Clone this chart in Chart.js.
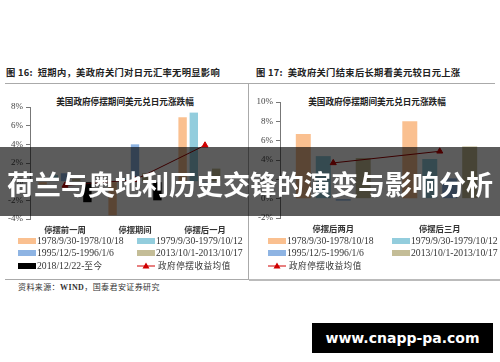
<!DOCTYPE html>
<html><head><meta charset="utf-8">
<script src="https://cdn.jsdelivr.net/npm/chart.js@4"></script>
<style>
body{margin:0;width:500px;height:362px;background:#fff;position:relative;overflow:hidden;font-family:"Liberation Serif","Noto Sans CJK SC",serif;color:#333;}
.abs{position:absolute;}
.ptitle{font-family:"Noto Sans CJK SC";font-size:9.3px;font-weight:bold;color:#222;white-space:nowrap;letter-spacing:0.3px;}
.ctitle{font-family:"Noto Sans CJK SC";font-size:8.6px;font-weight:bold;color:#222;white-space:nowrap;text-align:center;}
.leg{position:absolute;font-size:9.7px;white-space:nowrap;line-height:12px;color:#333;}
.leg .box{display:inline-block;width:18px;height:6px;vertical-align:middle;margin-right:1px;position:relative;top:-1px;}
.leg .cn{font-family:"Noto Sans CJK SC";font-size:8.6px;letter-spacing:0.5px;}
canvas{position:absolute;}
</style></head>
<body>
<div class="abs ptitle" style="left:6px;top:65px;">图 16:&nbsp; 短期内，美政府关门对日元汇率无明显影响</div>
<div class="abs ptitle" style="left:256px;top:65px;">图 17:&nbsp; 美政府关门结束后长期看美元较日元上涨</div>
<div class="abs" style="left:5px;top:83px;width:490px;height:1px;background:#aaa;"></div>
<div class="abs" style="left:248px;top:83px;width:1px;height:197px;background:#aaa;"></div>
<div class="abs" style="left:5px;top:279px;width:244px;height:1px;background:#aaa;"></div>
<div class="abs" style="left:249px;top:279px;width:251px;height:2px;background:#bbb;"></div>
<div class="abs ctitle" style="left:25px;top:95px;width:200px;">美国政府停摆期间美元兑日元涨跌幅</div>
<div class="abs ctitle" style="left:277px;top:95px;width:200px;">美国政府停摆期间美元兑日元涨跌幅</div>
<canvas id="c1" width="248" height="145" style="left:0;top:95px;"></canvas>
<canvas id="c2" width="248" height="150" style="left:250px;top:90px;"></canvas>
<div class="abs" style="left:18px;top:281px;font-family:'Noto Sans CJK SC';font-size:8px;color:#333;letter-spacing:0.4px;">资料来源：<span style="font-family:'Liberation Serif';font-weight:bold">WIND</span>，国泰君安证券研究</div>
<div class="abs" style="left:0;top:147px;width:500px;height:69px;background:rgba(0,0,0,0.64);"></div>
<div class="abs" style="left:7px;top:169px;font-family:'Noto Sans CJK SC';font-weight:bold;font-size:27px;line-height:30px;color:#fff;white-space:nowrap;">荷兰与奥地利历史交锋的演变与影响分析</div>
<div class="abs" style="left:312px;top:323px;width:181px;height:30px;background:#000;color:#fff;font-family:'DejaVu Sans';font-weight:bold;font-size:14px;line-height:30px;text-align:center;">www.cnapp-pa.com</div>
<script>
// ---- data ----
const leftCategories = ['停摆前一周','停摆期间','停摆后一月'];
const rightCategories = ['停摆后两月','停摆后三月'];
const seriesNames = ['1978/9/30-1978/10/18','1979/9/30-1979/10/12','1995/12/5-1996/1/6','2013/10/1-2013/10/17','2018/12/22-至今'];
const avgName = '政府停摆收益均值';
const left1978 = [-0.3, -3.6, 6.9];
const left1979 = [0.7, 0.4, 7.4];
const left1995 = [0.9, 4.0, -0.1];
const left2013 = [0.3, 0.9, 1.4];
const left2018 = [-2.2, -2.0, null];
const leftAvg  = [-0.4, 0.2, 3.9];
const right1978 = [6.7, 8.0];
const right1979 = [4.4, 4.1];
const right1995 = [-0.2, 2.1];
const right2013 = [4.2, 5.4];
const rightAvg  = [3.7, 4.9];
const leftTicks = {min:-4, max:8, step:2};
const rightTicks = {min:-2, max:10, step:2};
// ---- styles ----
const colors = ['#FAC090','#93CDDD','#8EB4E3','#C4BD97','#000000'];
const lineColor = '#A00000', markerColor = '#D00000';

function barDs(label, data, color){
  return {type:'bar',label,data,backgroundColor:color,borderWidth:0,order:2};
}
function lineDs(data){
  return {type:'line',label:avgName,data,borderColor:lineColor,borderWidth:1,pointStyle:'triangle',
    pointRadius:3.5,pointBackgroundColor:markerColor,pointBorderColor:markerColor,fill:false,tension:0,order:1};
}
function makeChart(id, cats, datasets, t, padTop, padRight, xH, catPct, barPct){
  new Chart(document.getElementById(id),{
    type:'bar',data:{labels:cats,datasets},
    options:{responsive:false,animation:false,devicePixelRatio:1,
      datasets:{bar:{categoryPercentage:catPct,barPercentage:barPct}},
      layout:{padding:{top:padTop,right:padRight,left:0,bottom:0}},
      plugins:{legend:{display:false},title:{display:false},tooltip:{enabled:false}},
      scales:{
        x:{grid:{display:false,drawTicks:false},border:{display:false},
           ticks:{font:{family:'Noto Sans CJK SC',size:8.3,weight:'bold'},color:'#333',padding:6,maxRotation:0,autoSkip:false},
           afterFit:s=>{s.height=xH;}},
        y:{min:t.min,max:t.max,
           ticks:{stepSize:t.step,callback:v=>v+'%',font:{family:'Liberation Serif',size:9},color:'#444',padding:3},
           grid:{drawOnChartArea:false,drawTicks:true,tickLength:4,color:'#777'},
           border:{display:true,color:'#777'},
           afterFit:s=>{s.width=30;}}
      }}
  });
}
makeChart('c1', leftCategories, [
  barDs(seriesNames[0], left1978, colors[0]),
  barDs(seriesNames[1], left1979, colors[1]),
  barDs(seriesNames[2], left1995, colors[2]),
  barDs(seriesNames[3], left2013, colors[3]),
  barDs(seriesNames[4], left2018, colors[4]),
  lineDs(leftAvg)
], leftTicks, 12, 8, 21, 0.8, 0.75);
makeChart('c2', rightCategories, [
  barDs(seriesNames[0], right1978, colors[0]),
  barDs(seriesNames[1], right1979, colors[1]),
  barDs(seriesNames[2], right1995, colors[2]),
  barDs(seriesNames[3], right2013, colors[3]),
  lineDs(rightAvg)
], rightTicks, 12, 0, 22, 0.75, 0.75);

// ---- legends ----
function legendItem(x, y, idx, isLine){
  const d = document.createElement('div'); d.className='leg';
  d.style.left = x+'px'; d.style.top = (y-6)+'px';
  if(isLine){
    d.innerHTML = '<svg width="19" height="8" style="vertical-align:middle;position:relative;top:-1px;margin-right:2px"><line x1="0" y1="4" x2="18" y2="4" stroke="'+markerColor+'" stroke-width="1"/><polygon points="9,0.5 12.5,6.5 5.5,6.5" fill="'+markerColor+'"/></svg><span class="cn">'+avgName+'</span>';
  } else {
    let name = seriesNames[idx].replace('至今','<span class="cn">至今</span>');
    d.innerHTML = '<span class="box" style="background:'+colors[idx]+'"></span>'+name;
  }
  document.body.appendChild(d);
}
const rows = [241, 253, 265];
legendItem(18, rows[0], 0); legendItem(137, rows[0], 1);
legendItem(18, rows[1], 2); legendItem(137, rows[1], 3);
legendItem(18, rows[2], 4); legendItem(137, rows[2], 0, true);
legendItem(268, rows[0], 0); legendItem(392, rows[0], 1);
legendItem(268, rows[1], 2); legendItem(392, rows[1], 3);
legendItem(268, rows[2], 0, true);
</script>
</body></html>
